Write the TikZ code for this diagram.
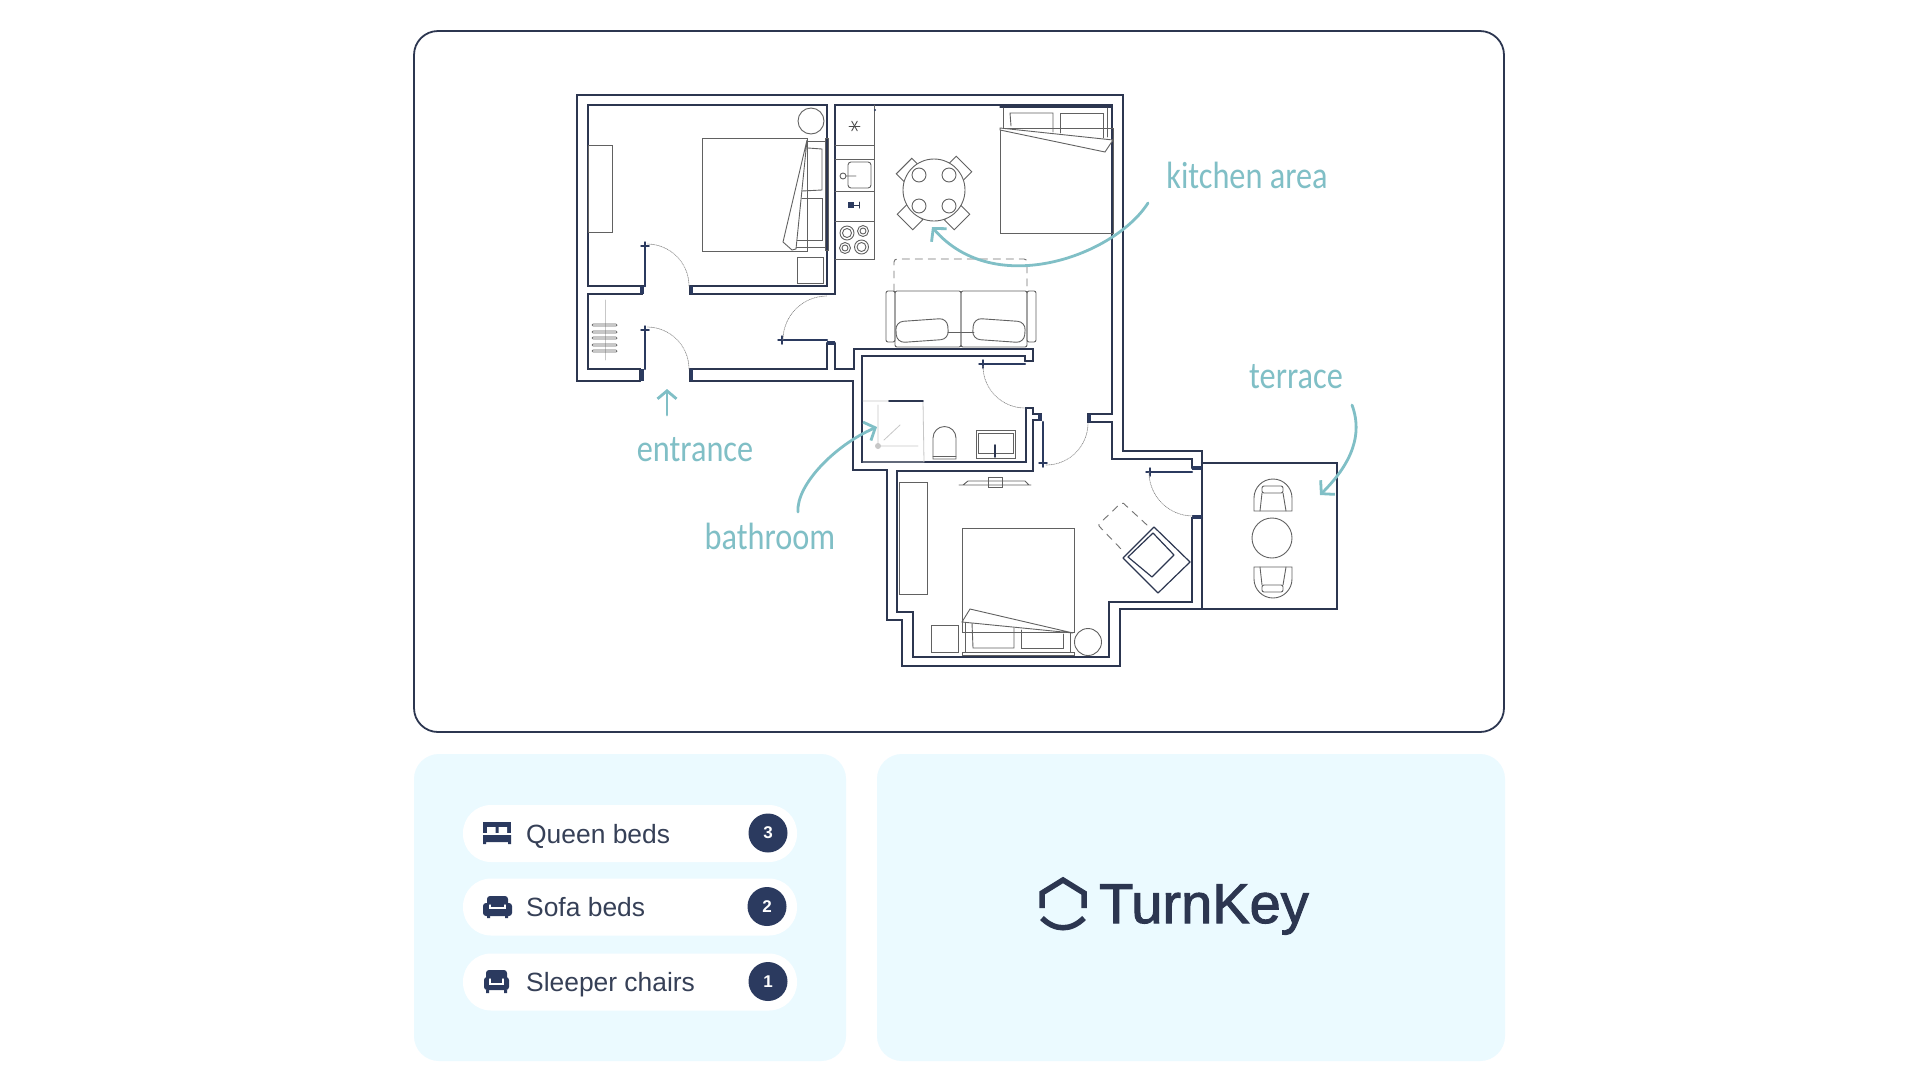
\documentclass[tikz,border=0pt]{standalone}
\usepackage{fontspec}
\usetikzlibrary{arrows.meta}
\setmainfont{Liberation Sans}
\newfontfamily\notefont[FakeStretch=0.85]{Carlito}
\newfontfamily\brandfont[FakeBold=1.8]{Liberation Sans}
\definecolor{navy}{HTML}{2B3A5F}
\definecolor{wallink}{HTML}{2C3650}
\definecolor{ink}{HTML}{364057}
\definecolor{teal}{HTML}{80BFC6}
\definecolor{pale}{HTML}{EBFAFF}
\tikzset{
  wall/.style={draw=wallink, line width=2.1pt},
  leaf/.style={draw=navy, line width=2.4pt},
  item/.style={draw=black!62, line width=0.9pt},
  faint/.style={draw=black!22, line width=0.8pt},
  swing/.style={draw=black!45, line width=0.7pt, densely dotted},
  ghost/.style={draw=black!55, line width=0.9pt, dash pattern=on 7pt off 6pt},
  note/.style={draw=teal, line width=2.8pt, -{Straight Barb[length=9pt,width=20pt]}},
  notelabel/.style={text=teal, font=\notefont\fontsize{38}{40}\selectfont},
  panel/.style={fill=pale, rounded corners=25pt},
  pill/.style={fill=white, rounded corners=28pt, minimum width=334pt, minimum height=57pt},
  rowlabel/.style={text=ink, anchor=base west, inner sep=0pt, font=\fontsize{26.4}{30}\selectfont},
  badge/.style={circle, fill=navy, text=white, minimum size=39pt, inner sep=0pt,
                font=\bfseries\fontsize{17}{20}\selectfont},
  hinge/.pic={\draw[leaf,line width=1.5pt] (-4,0) -- (4,0) (0,-4) -- (0,4);}
}

\begin{document}
\begin{tikzpicture}[x=1pt, y=-1pt, >=stealth, line cap=round]
\useasboundingbox (0,0) rectangle (1920,1080);
\fill [white] (0,0) rectangle (1920,1080);

% panels
\draw [draw=wallink, line width=1.8pt, rounded corners=24pt] (414,31) rectangle (1504,732);
\fill [panel] (414,754) rectangle (846,1061);
\fill [panel] (877,754) rectangle (1505,1061);

% walls
\draw [wall] (640,381) -- (577,381) -- (577,95) -- (1123,95) -- (1123,451) -- (1202,451)
  -- (1202,609) -- (1120,609) -- (1120,666) -- (902,666) -- (902,620) -- (887,620)
  -- (887,470) -- (853,470) -- (853,381) -- (690,381) -- (690,369) -- (827,369) -- (827,343);
\draw [wall] (645,286) -- (588,286) -- (588,105) -- (827,105) -- (827,286) -- (690,286)
  -- (690,294) -- (835,294) -- (835,105) -- (1112,105) -- (1112,414) -- (1088,414)
  -- (1088,422) -- (1112,422) -- (1112,459) -- (1192,459) -- (1192,468);
\draw [wall] (642,286) -- (642,294) -- (588,294) -- (588,369) -- (640,369) -- (640,381);
\draw [wall] (835,343) -- (835,369) -- (854,369) -- (854,349) -- (1033,349) -- (1033,361) -- (1025,361);
\draw [wall] (1025,361) -- (1025,356) -- (862,356) -- (862,462) -- (1026,462) -- (1026,408)
  -- (1033,408) -- (1033,414) -- (1041,414) -- (1041,420) -- (1033,420) -- (1033,471)
  -- (897,471) -- (897,612) -- (913,612) -- (913,657) -- (1109,657) -- (1109,602)
  -- (1192,602) -- (1192,518) -- (1202,518);
\draw [wall] (1202,463) -- (1337,463) -- (1337,609) -- (1202,609);

% door leaves, jambs and swings
\foreach \lx/\ly/\mx/\my in {645/246/645/286, 645/330/645/369, 782/340/827/340,
    983/364/1025/364, 1043/463/1043/422, 1150/472/1192/472}{
  \draw [leaf] (\lx,\ly) -- (\mx,\my);
  \pic at (\lx,\ly) {hinge};
}
\foreach \jx/\jy/\kx/\ky in {640/369/644/381, 690/369/693/381, 690/286/693/294, 640/286/644/294,
    827/341/835/345, 1192/466/1202/470, 1192/515/1202/519, 1088/414/1091/422, 1038/414/1042/421}{
  \fill [navy] (\jx,\jy) rectangle (\kx,\ky);
}
\draw [swing] (689,286) arc (0:-90:42);
\draw [swing] (689,369) arc (0:-90:42);
\draw [swing] (783,340) arc (180:270:44);
\draw [swing] (983,366) arc (180:90:42);
\draw [swing] (1046,465) arc (90:0:42);
\draw [swing] (1149,472) arc (180:90:44);

% bedroom with dresser
\draw [item] (811,121) circle (13);
\draw [item] (702,138) rectangle (807,251);
\draw [item] (588,145) rectangle (612,232);
\draw [item] (797,257) rectangle (823,283);
\draw [item] (825,138) rectangle (828,250);
\draw [item] (807,141) -- (825,141) (796,247) -- (825,247);
\draw [item] (808,148) -- (822,149) -- (822,190) -- (802,191);
\draw [item] (802,198) -- (822,198) -- (822,240) -- (797,240);
\draw [item, fill=white] (807,140) -- (783,242) -- (792,250) -- (796,249) -- cycle;

% radiator
\draw [faint] (605,300) -- (605,360);
\foreach \ry in {325,332,338,345,351}{
  \draw [item, rounded corners=1pt, line width=0.7pt] (592,\ry-1) rectangle (617,\ry+1);
}

% kitchen
\draw [item] (835,145) -- (874,145) (835,159) -- (874,159) (835,191) -- (874,191) (835,221) -- (874,221);
\draw [item] (874,105) -- (874,259) -- (835,259);
\fill [navy] (875,110) circle (1.2);
\draw [item, rounded corners=3pt] (848,162) rectangle (871,188);
\draw [item] (843,176) circle (3) (846,176) -- (856,176);
\foreach \a in {0,60,120}{
  \draw [draw=black!70, line width=0.9pt] (854.5,126) +(\a:5.5) -- +(\a+180:5.5);
}
\fill [navy] (848,202) rectangle (854,208);
\draw [wall, line width=1pt] (854,205) -- (859,205) (859,202) -- (859,208);
\foreach \cx/\cy/\cr in {847/233/7, 863/231/5.5, 845/248/5.5, 861.5/247/7}{
  \draw [item] (\cx,\cy) circle (\cr) (\cx,\cy) circle (\cr-2.5);
}

% dining table
\foreach \cx/\cy/\ca in {909/171/45, 959/169/-45, 910/217/-45, 957/217/45}{
  \draw [item, rotate around={\ca:(\cx,\cy)}] (\cx-11,\cy-7) rectangle (\cx+11,\cy+7);
}
\draw [item, fill=white] (934,190) circle (31);
\foreach \cx/\cy in {919/175, 949/175, 919/206, 949/206}{
  \draw [item] (\cx,\cy) circle (7);
}

% bed by the window wall
\draw [item] (1000,128) rectangle (1113,233);
\draw [wall, line width=1.2pt] (1000,107) -- (1112,107);
\draw [item] (1003,108) -- (1003,128) (1107,108) -- (1107,137);
\draw [item] (1011,126) -- (1010,113) -- (1053,113) -- (1053,132);
\draw [item] (1060,133) -- (1060,113) -- (1103,113) -- (1103,138);
\draw [item, fill=white] (1000,128) -- (1113,140) -- (1105,152) -- (1000,130) -- cycle;

% sofa
\draw [ghost, rounded corners=3pt] (894,291) -- (894,259) -- (1027,259) -- (1027,291);
\draw [item, rounded corners=2pt] (886,291) rectangle (895,342);
\draw [item, rounded corners=2pt] (1027,291) rectangle (1036,342);
\draw [item, rounded corners=2pt] (895,291) rectangle (961,347);
\draw [item, rounded corners=2pt] (961,291) rectangle (1027,347);
\draw [item] (948,332) -- (974,332);
\draw [item, rounded corners=8pt, rotate around={4:(922,330)}] (896,320) rectangle (948,341);
\draw [item, rounded corners=8pt, rotate around={-4:(999,330)}] (973,320) rectangle (1025,341);

% bathroom
\draw [faint] (863,401) -- (889,401) (923,401) -- (924,462) -- (863,462);
\draw [wall, line width=1.6pt] (889,401) -- (923,401);
\draw [faint] (878,405) -- (878,446) -- (918,446) (884,440) -- (900,425);
\fill [black!22] (878,446) circle (3);
\draw [item] (933,459) -- (933,438) arc (180:360:11.5) -- (956,459) -- cycle;
\draw [item] (933,456) -- (956,456);
\draw [item] (976,430) rectangle (1015,458);
\draw [item] (978,433) rectangle (1013,453);
\draw [wall, line width=1.6pt] (995,445) -- (995,457);

% bedroom with tv
\draw [item] (959,485) -- (1031,485) (963,485) -- (968,481) -- (1025,481) -- (1029,485);
\draw [item] (988,477) rectangle (1002,487);
\draw [item] (899,482) rectangle (927,594);
\draw [item] (962,528) rectangle (1074,632);
\draw [item] (965,622) -- (965,652) (1070,633) -- (1070,652);
\draw [item] (972,623) -- (973,648) -- (1014,648) -- (1014,628);
\draw [item] (1021,630) -- (1021,648) -- (1063,648) -- (1063,634);
\draw [item, fill=white] (970,609) -- (1073,633) -- (962,622) -- cycle;
\draw [item] (962,652) rectangle (1074,655);
\draw [item] (1088,642) circle (13.5);
\draw [item] (931,625) rectangle (958,652);

% armchair
\draw [ghost, rounded corners=2pt] (1147,525) -- (1122,502) -- (1098,525) -- (1122,550);
\draw [wall, line width=1.2pt, line join=round] (1123,558) -- (1154,527) -- (1190,562) -- (1158,593) -- cycle;
\draw [wall, line width=1.2pt, line join=round] (1128,557) -- (1153,533) -- (1174,555) -- (1152,577) -- cycle;

% terrace furniture
\draw [item] (1254,511) -- (1254,498) arc (180:360:19) -- (1292,511) -- cycle;
\draw [item] (1260,511) -- (1262,493) (1286,511) -- (1283,493);
\draw [item, rounded corners=2pt] (1262,486) rectangle (1283,493);
\draw [item] (1272,538) circle (20);
\draw [item] (1254,567) -- (1254,579) arc (180:0:19) -- (1292,567) -- cycle;
\draw [item] (1260,567) -- (1262,585) (1286,567) -- (1283,585);
\draw [item, rounded corners=2pt] (1262,585) rectangle (1283,592);

% labels and arrows
\node (kitchenlbl) [notelabel] at (1247,175) {kitchen area};
\node (terracelbl) [notelabel] at (1296,377) {terrace};
\node (entrancelbl) [notelabel] at (695,450) {entrance};
\node (bathroomlbl) [notelabel] at (770,536) {bathroom};
\coordinate (kitchenfrom) at (1148,203);
\coordinate (kitchentip) at (932,227);
\coordinate (terracefrom) at (1352,405);
\coordinate (terracetip) at (1320,495);
\coordinate (entrancefrom) at (667,415);
\coordinate (entrancetip) at (667,389);
\coordinate (bathroomfrom) at (798,512);
\coordinate (bathroomtip) at (877,427);
\draw [note] (kitchenfrom) .. controls (1115,255) and (995,300) .. (kitchentip);
\draw [note] (terracefrom) .. controls (1365,440) and (1345,470) .. (terracetip);
\draw [note, -{Straight Barb[length=8pt,width=19pt]}] (entrancefrom) -- (entrancetip);
\draw [note] (bathroomfrom) .. controls (796,485) and (835,445) .. (bathroomtip);

% legend rows
\foreach \rowid/\rowy/\rowtext/\rowcount/\rowbadge in {queen/833.5/Queen beds/3/768, sofa/907/Sofa beds/2/767, chair/982/Sleeper chairs/1/768}{
  \node (pill\rowid) [pill] at (630,\rowy) {};
  \node (text\rowid) [rowlabel] at (526,\rowy+9.5) {\rowtext};
  \node (badge\rowid) [badge] at (\rowbadge,\rowy-0.5) {\rowcount};
}

% row icons
\fill [navy] (483,822) rectangle (511,833);
\fill [white] (487,827) rectangle (495.5,833) (498.5,827) rectangle (507,833);
\fill [navy] (483,835) rectangle (511,842) (483,842) rectangle (486,844) (508,842) rectangle (511,844);

\fill [navy, rounded corners=3pt] (487,896) rectangle (508,908);
\fill [navy, rounded corners=3pt] (483,903) rectangle (512,916);
\fill [navy] (487,916) rectangle (490,918) (505,916) rectangle (508,918);
\draw [white, line width=1.5pt] (490,905) -- (490,908) -- (505,908) -- (505,905);

\fill [navy, rounded corners=3pt] (486,970) rectangle (507,982);
\fill [navy, rounded corners=3pt] (484,977) rectangle (509,990);
\fill [navy] (486,990) rectangle (489,993) (504,990) rectangle (507,993);
\draw [white, line width=1.5pt] (490,979) -- (490,984) -- (503,984) -- (503,979);

% brand
\draw [wallink, line width=5.5pt, line cap=butt, line join=miter] (1042,908) -- (1042,893) -- (1063,880) -- (1084,893) -- (1084,908);
\draw [wallink, line width=5.5pt, line cap=butt] (1042,918) .. controls (1055,931) and (1071,931) .. (1084,918);
\node (brandname) [text=wallink, inner sep=0pt, font=\brandfont\fontsize{56}{60}\selectfont, anchor=base west] at (1099,923) {TurnKey};
\end{tikzpicture}
\end{document}
